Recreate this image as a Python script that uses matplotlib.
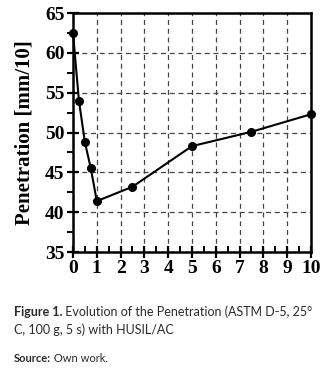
import matplotlib
matplotlib.use("Agg")
import matplotlib.pyplot as plt
from matplotlib.ticker import MultipleLocator

x_vals = [0, 0.25, 0.5, 0.75, 1, 2.5, 5, 7.5, 10]
penetration = [62.5, 54.0, 48.8, 45.5, 41.4, 43.2, 48.3, 50.1, 52.3]
x_ticks = [0, 1, 2, 3, 4, 5, 6, 7, 8, 9, 10]
y_ticks = [35, 40, 45, 50, 55, 60, 65]

fig = plt.figure(figsize=(3.31, 3.74), dpi=100)
ax = fig.add_axes([0.2205, 0.326, 0.719, 0.639])

ax.plot(x_vals, penetration, color="black", lw=1.5, marker="o", ms=5.5, zorder=3, clip_on=False)
ax.set_xlim(0, 10)
ax.set_ylim(35, 65)
ax.set_xticks(x_ticks)
ax.set_yticks(y_ticks)
ax.xaxis.set_minor_locator(MultipleLocator(0.5))
ax.yaxis.set_minor_locator(MultipleLocator(2.5))
ax.grid(True, which="major", linestyle=(0, (4, 3)), color="#444444", lw=0.9)
for s in ax.spines.values():
    s.set_linewidth(1.8)
ax.tick_params(which="major", direction="inout", length=8, width=1.6, pad=2)
ax.tick_params(axis="x", which="minor", direction="in", length=4, width=1.4)
ax.tick_params(axis="y", which="minor", direction="out", length=4, width=1.4)
for lab in ax.get_xticklabels() + ax.get_yticklabels():
    lab.set_fontfamily("Liberation Serif")
    lab.set_fontweight("bold")
    lab.set_fontsize(14)
ax.set_ylabel("Penetration [mm/10]", fontfamily="Liberation Serif", fontweight="bold", fontsize=15, labelpad=8)

cap_kw = dict(fontfamily="Lato", color="#2a2a2a")
t1 = fig.text(0.042, 1 - 312 / 374, "Figure 1.", fontweight="bold", fontsize=9, va="center", **cap_kw)
ax.annotate(" Evolution of the Penetration (ASTM D-5, 25°", xy=(1, 0), xycoords=t1, va="bottom",
            fontsize=9, annotation_clip=False, **cap_kw)
fig.text(0.042, 1 - 330 / 374, "C, 100 g, 5 s) with HUSIL/AC", fontsize=9, va="center", **cap_kw)
t2 = fig.text(0.042, 1 - 358 / 374, "Source:", fontweight="bold", fontsize=8, va="center", **cap_kw)
ax.annotate(" Own work.", xy=(1, 0), xycoords=t2, va="bottom", fontsize=8, annotation_clip=False, **cap_kw)

fig.savefig("out.png", dpi=100)
